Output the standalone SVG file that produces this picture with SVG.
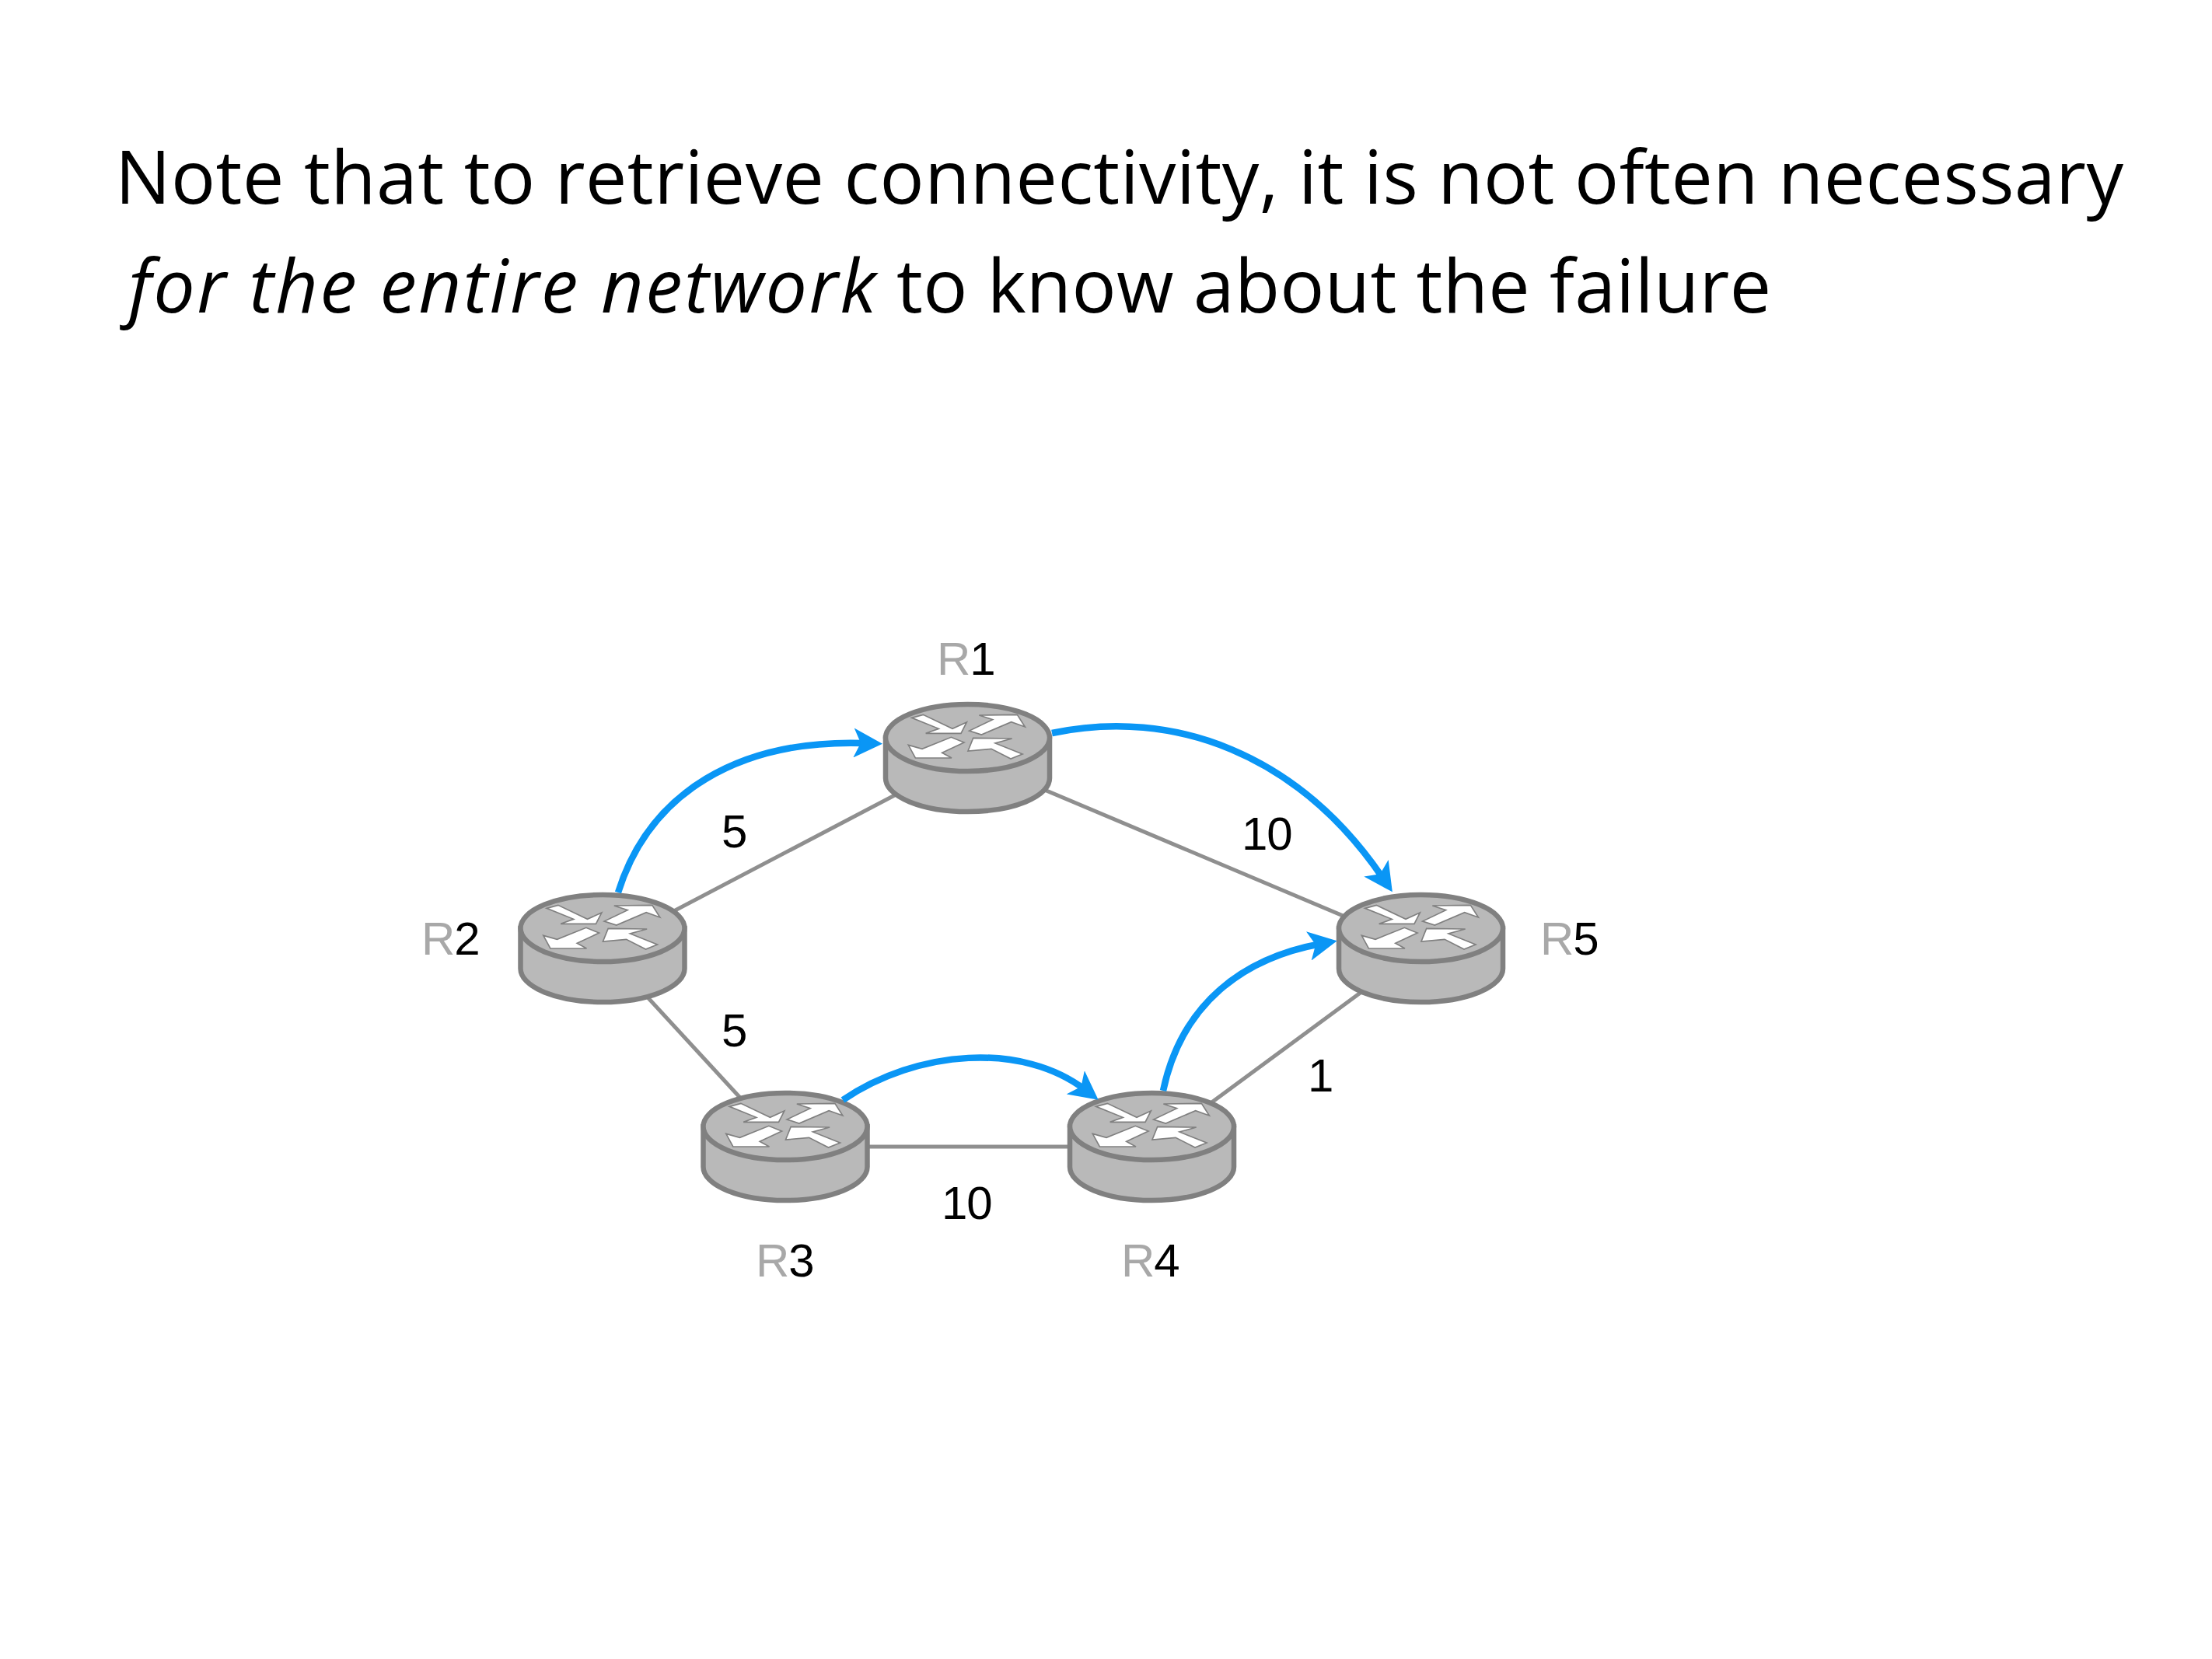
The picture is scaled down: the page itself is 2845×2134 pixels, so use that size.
<svg xmlns="http://www.w3.org/2000/svg" width="2845" height="2134" viewBox="0 0 2845 2134">
<style>
.title{font-family:"Open Sans",sans-serif;font-size:95px;fill:#000}
.it{font-style:italic}
.lab{font-family:"Liberation Sans",Arial,sans-serif;font-size:60px;fill:#000;letter-spacing:-1px}
.r{fill:#a8a8a8}
.link{stroke:#8f8f8f;stroke-width:5;fill:none}
.flow{stroke:#0a96f5;stroke-width:8.500;fill:none;marker-end:url(#ah)}
.body{fill:#b9b9b9;stroke:#808080;stroke-width:6.500}
.ar{fill:#fff;stroke:#808080;stroke-width:5;stroke-linejoin:miter}
</style>
<defs>
<marker id="ah" markerUnits="userSpaceOnUse" markerWidth="38" markerHeight="38" refX="16" refY="19" orient="auto" viewBox="0 0 38 38"><path d="M0 0L37 19L0 38L9 19Z" fill="#0a96f5"/></marker>
<g id="router">
<path class="body" d="M-105.500 0V52A105.500 43 0 0 0 105.500 52V0Z"/>
<ellipse class="body" cx="0" cy="0" rx="105.500" ry="43"/>
<g transform="scale(.3333) translate(-433.500 -207)">
<path class="ar" d="M218 130L262 118L375 172L430 147L408 190L272 190L322 172Z"/>
<path class="ar" d="M655 165L625 118L478 120L530 137L440 180L487 195L602 146Z"/>
<path class="ar" d="M205 235L258 250L370 205L420 225L335 265L372 285L232 285Z"/>
<path class="ar" d="M435 258L455 208L605 210L540 228L645 270L600 288L525 250Z"/>
</g>
</g>
</defs>
<rect width="2845" height="2134" fill="#fff"/>
<text class="title" x="148" y="262" textLength="2583" lengthAdjust="spacing">Note that to retrieve connectivity, it is not often necessary</text>
<text class="title it" x="165" y="402" textLength="962" lengthAdjust="spacing">for the entire network</text>
<text class="title" x="1153" y="402" textLength="1125" lengthAdjust="spacing">to know about the failure</text>
<g id="connectors">
<path class="link" d="M775 1220L1244 974"/>
<path class="link" d="M1244 974L1827 1220"/>
<path class="link" d="M775 1220L1010 1475"/>
<path class="link" d="M1010 1475H1481"/>
<path class="link" d="M1481 1475L1827 1220"/>
</g>
<g id="R1"><use href="#router" x="1244.500" y="949"/><text class="lab" x="1205" y="868"><tspan class="r">R</tspan>1</text></g>
<g id="R2"><use href="#router" x="775" y="1194"/><text class="lab" x="542" y="1228"><tspan class="r">R</tspan>2</text></g>
<g id="R3"><use href="#router" x="1010" y="1449"/><text class="lab" x="972" y="1642"><tspan class="r">R</tspan>3</text></g>
<g id="R4"><use href="#router" x="1481.500" y="1449"/><text class="lab" x="1442" y="1642"><tspan class="r">R</tspan>4</text></g>
<g id="R5"><use href="#router" x="1827.500" y="1194"/><text class="lab" x="1981" y="1228"><tspan class="r">R</tspan>5</text></g>
<g id="flows">
<path class="flow" d="M795 1148C835 1020 950 950 1114 956"/>
<path class="flow" d="M1353 943C1510 910 1670 970 1779 1130"/>
<path class="flow" d="M1084 1415C1180 1350 1315 1340 1396 1402"/>
<path class="flow" d="M1496 1403C1520 1290 1600 1232 1699 1214"/>
</g>
<g id="weights">
<text class="lab" x="928" y="1090">5</text>
<text class="lab" x="928" y="1346">5</text>
<text class="lab" x="1597" y="1093">10</text>
<text class="lab" x="1682" y="1404">1</text>
<text class="lab" x="1211" y="1568">10</text>
</g>
</svg>
